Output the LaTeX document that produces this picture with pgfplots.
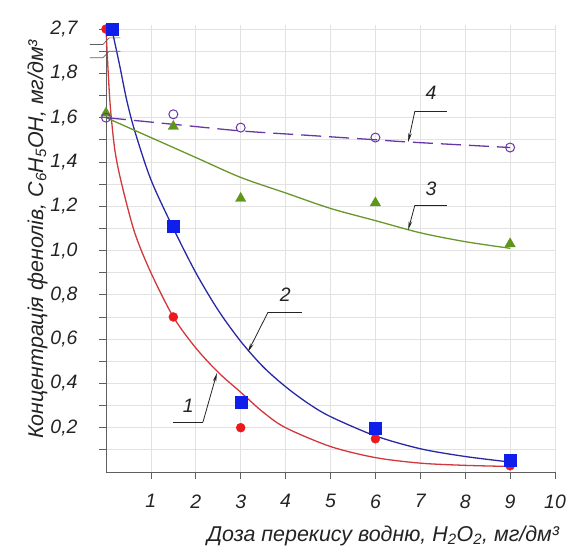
\documentclass[border=0pt]{standalone}
\usepackage{fontspec}
\setmainfont{Liberation Sans}
\usepackage{pgfplots}
\pgfplotsset{compat=1.18}
\usetikzlibrary{arrows.meta}

\definecolor{gridc}{RGB}{226,226,226}
\definecolor{axc}{RGB}{95,95,95}
\definecolor{txt}{RGB}{35,35,35}
\definecolor{redl}{RGB}{210,55,60}
\definecolor{redm}{RGB}{235,25,30}
\definecolor{bluel}{RGB}{40,40,165}
\definecolor{bluem}{RGB}{15,30,235}
\definecolor{greenl}{RGB}{105,150,40}
\definecolor{greenm}{RGB}{95,150,25}
\definecolor{purp}{RGB}{105,55,165}

\begin{document}
\begin{tikzpicture}
% page = 573 x 552 bp, axis origin at (106,472) px of the reference
\path[use as bounding box] (-106bp,-80bp) rectangle (467bp,472bp);
\begin{axis}[
    at={(0,0)}, anchor=south west,
    scale only axis,
    width=449bp, height=447.4bp,
    xmin=0, xmax=10, ymin=0, ymax=2.02,
    axis x line=bottom, axis y line=left,
    axis line style={axc, line width=0.8pt, -},
    tick style={axc, line width=0.8pt},
    tick align=outside,
    major tick length=7bp, minor tick length=7bp,
    xtick={1,...,10},
    ytick={0.2,0.4,0.6,0.8,1.0,1.2,1.4,1.6,1.8,2.0},
    yticklabels={{0,2},{0,4},{0,6},{0,8},{1,0},{1,2},{1,4},{1,6},{1,8},{2,7}},
    minor ytick={0.1,0.3,0.5,0.7,0.9,1.1,1.3,1.5,1.7,1.9},
    grid=both,
    major grid style={gridc, line width=0.8pt},
    minor grid style={gridc, line width=0.8pt},
    /pgf/number format/assume math mode=true,
    ticklabel style={font=\fontsize{19.5}{19.5}\selectfont\itshape, text=txt},
    yticklabel style={xshift=-18bp},
    xticklabel style={yshift=-12bp},
    label style={font=\fontsize{21.5}{21.5}\selectfont\itshape, text=txt},
    xlabel={Доза перекису водню, H\textsubscript{2}O\textsubscript{2}, мг/дм³},
    ylabel={Концентрація фенолів, C\textsubscript{6}H\textsubscript{5}OH, мг/дм³},
    xlabel style={at={(axis description cs:0.617,0)}, anchor=north, yshift=-50bp},
    ylabel style={at={(axis description cs:0,0.52)}, anchor=south, yshift=55bp},
    clip=false,
]
% curve 1
\addplot[redl, line width=1.3pt, smooth] coordinates {
 (0,2.0) (0.05,1.8) (0.1,1.64) (0.2,1.45) (0.35,1.30) (0.64,1.08) (1,0.9)
 (1.5,0.7) (2,0.56) (2.5,0.45) (3,0.36) (3.5,0.27) (4,0.2) (5,0.115) (6,0.065)
 (7,0.04) (8,0.03) (9,0.025)};
% curve 2
\addplot[bluel, line width=1.3pt, smooth] coordinates {
 (0.13,2.0) (0.3,1.84) (0.46,1.68) (0.64,1.54) (1.0,1.32) (1.5,1.1) (2,0.9)
 (2.5,0.73) (3,0.59) (3.5,0.475) (4,0.385) (4.5,0.31) (5,0.25) (6,0.163)
 (7,0.105) (8,0.07) (9,0.045)};
% curve 3
\addplot[greenl, line width=1.3pt, smooth] coordinates {
 (0,1.6) (1,1.51) (2,1.42) (3,1.33) (4,1.26) (5,1.19) (6,1.135) (7,1.08)
 (8,1.04) (9,1.01)};
% curve 4
\addplot[purp, line width=1.3pt, smooth, dash pattern=on 20bp off 8bp] coordinates {
 (0,1.6) (1.64,1.567) (3,1.54) (4.5,1.52) (6,1.5) (6.73,1.49) (9,1.465)};
% points
\addplot[only marks, mark=*, mark size=4.5bp, redm] coordinates {
 (0,2.0) (1.5,0.70) (3,0.2) (6,0.15) (9,0.028)};
\addplot[only marks, mark=square*, mark size=6bp, bluem] coordinates {
 (0.13,2.0) (1.5,1.11) (3,0.315) (6,0.2) (9,0.055)};
\addplot[only marks, mark=triangle*, mark size=6bp, greenm] coordinates {
 (0,1.62) (1.5,1.56) (3,1.235) (6,1.215) (9,1.03)};
\addplot[only marks, mark=o, mark size=4.5bp, purp, line width=1pt, mark options={fill=white}] coordinates {
 (0,1.6) (1.5,1.615) (3,1.555) (6,1.51) (9,1.465)};
% axis break
\draw[axc, line width=0.7pt] (axis cs:-0.36,1.93) -- (axis cs:-0.07,1.93) -- (axis cs:0.07,1.96) -- (axis cs:0.32,1.96);
\draw[axc, line width=0.7pt] (axis cs:-0.36,1.87) -- (axis cs:-0.07,1.87) -- (axis cs:0.07,1.90) -- (axis cs:0.32,1.90);
% leader labels
\tikzset{lead/.style={txt, line width=0.8pt}, tip/.style={-{Stealth[length=9bp,width=3.5bp]}}}
\draw[lead] (axis cs:1.49,0.226) -- (axis cs:2.16,0.226);
\draw[lead,tip] (axis cs:2.16,0.226) -- (axis cs:2.47,0.447);
\node[txt, font=\fontsize{19.5}{19.5}\selectfont\itshape] at (axis cs:1.83,0.30) {1};
\draw[lead] (axis cs:3.61,0.722) -- (axis cs:4.37,0.722);
\draw[lead,tip] (axis cs:3.61,0.722) -- (axis cs:3.16,0.542);
\node[txt, font=\fontsize{19.5}{19.5}\selectfont\itshape] at (axis cs:3.99,0.80) {2};
\draw[lead] (axis cs:6.88,1.205) -- (axis cs:7.59,1.205);
\draw[lead,tip] (axis cs:6.88,1.205) -- (axis cs:6.73,1.093);
\node[txt, font=\fontsize{19.5}{19.5}\selectfont\itshape] at (axis cs:7.24,1.28) {3};
\draw[lead] (axis cs:6.88,1.63) -- (axis cs:7.59,1.63);
\draw[lead,tip] (axis cs:6.88,1.63) -- (axis cs:6.73,1.49);
\node[txt, font=\fontsize{19.5}{19.5}\selectfont\itshape] at (axis cs:7.24,1.71) {4};
\end{axis}
\end{tikzpicture}
\end{document}
